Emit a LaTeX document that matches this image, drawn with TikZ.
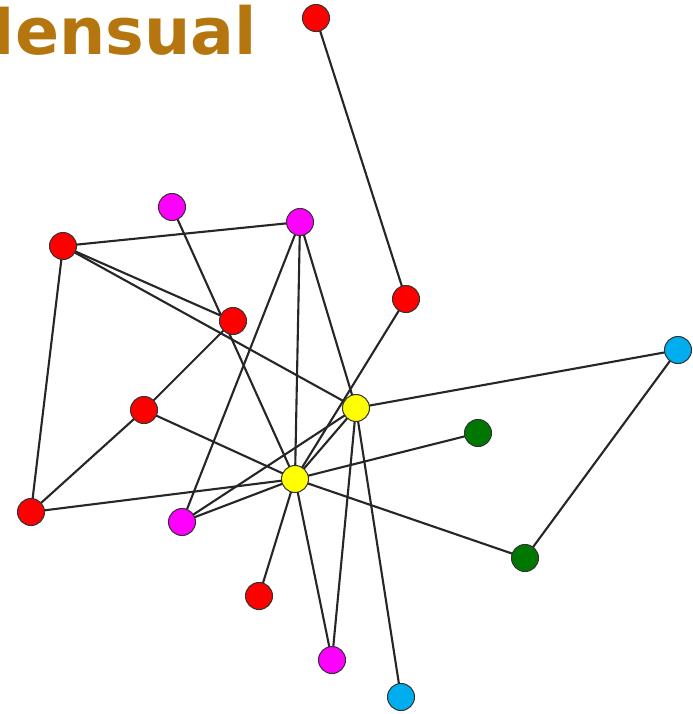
\documentclass[tikz,border=0pt]{standalone}
\usepackage{fontspec}
\usepackage{tikz}
\usetikzlibrary{backgrounds}
\newfontfamily\titlefont{DejaVu Sans}

\definecolor{gold}{RGB}{181,118,15}
\definecolor{dkgreen}{RGB}{0,119,0}
\definecolor{sky}{RGB}{0,174,239}
\definecolor{vred}{RGB}{255,0,0}
\definecolor{vmagenta}{RGB}{255,0,255}
\definecolor{vyellow}{RGB}{255,255,0}

\begin{document}
\begin{tikzpicture}[x=0.02cm, y=-0.02cm,
    every node/.style={circle,draw=black!80,line width=0.6pt,minimum size=0.54cm,inner sep=0pt},
    edge/.style={draw=black!85,line width=1.2pt}]
    \clip (0,0) rectangle (693,714);

    % Title (cut off at the left border)
    \node[draw=none, rectangle, anchor=base west, text=gold, font=\titlefont\bfseries\fontsize{37}{42}\selectfont] (T) at (-50,54) {Mensual};

    \node[fill=vred] (R1) at (316,18) {};
    \node[fill=vmagenta] (P1) at (172,207) {};
    \node[fill=vmagenta] (P2) at (300,222) {};
    \node[fill=vred] (R2) at (63,246) {};
    \node[fill=vred] (R3) at (406,299) {};
    \node[fill=vred] (R4) at (233,321) {};
    \node[fill=sky] (B1) at (678,350) {};
    \node[fill=vred] (R5) at (144,410) {};
    \node[fill=vyellow] (Y1) at (356,408) {};
    \node[fill=dkgreen] (G1) at (478,433) {};
    \node[fill=vyellow] (Y2) at (295,479) {};
    \node[fill=vred] (R6) at (31,512) {};
    \node[fill=vmagenta] (P3) at (182,522) {};
    \node[fill=dkgreen] (G2) at (525,558) {};
    \node[fill=vred] (R7) at (259,596) {};
    \node[fill=vmagenta] (P4) at (332,660) {};
    \node[fill=sky] (B2) at (401,697) {};

    % Edges
    \begin{scope}[on background layer]
    \draw[edge] (R1.center) -- (R3.center);
    \draw[edge] (R2.center) -- (P2.center);
    \draw[edge] (R2.center) -- (R4.center);
    \draw[edge] (R2.center) -- (Y1.center);
    \draw[edge] (R2.center) -- (R6.center);
    \draw[edge] (P1.center) -- (Y2.center);
    \draw[edge] (P2.center) -- (P3.center);
    \draw[edge] (P2.center) -- (Y2.center);
    \draw[edge] (P2.center) -- (Y1.center);
    \draw[edge] (R3.center) -- (Y2.center);
    \draw[edge] (R4.center) -- (R5.center);
    \draw[edge] (R5.center) -- (R6.center);
    \draw[edge] (R5.center) -- (Y2.center);
    \draw[edge] (R6.center) -- (Y2.center);
    \draw[edge] (Y1.center) -- (B1.center);
    \draw[edge] (B1.center) -- (G2.center);
    \draw[edge] (Y1.center) -- (P3.center);
    \draw[edge] (Y2.center) -- (P3.center);
    \draw[edge] (Y1.center) -- (Y2.center);
    \draw[edge] (Y2.center) -- (G1.center);
    \draw[edge] (Y2.center) -- (G2.center);
    \draw[edge] (Y2.center) -- (R7.center);
    \draw[edge] (Y2.center) -- (P4.center);
    \draw[edge] (Y1.center) -- (P4.center);
    \draw[edge] (Y1.center) -- (B2.center);
    \end{scope}
\end{tikzpicture}
\end{document}
